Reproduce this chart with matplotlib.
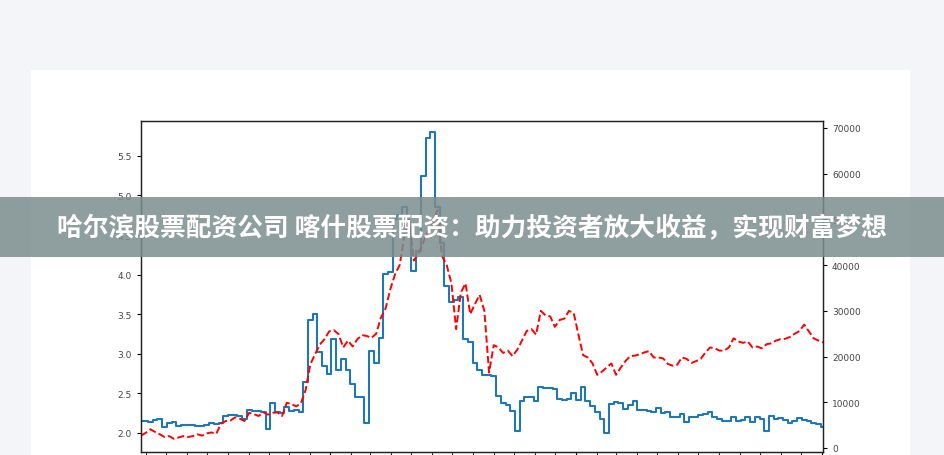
import numpy as np
import pandas as pd
import matplotlib
matplotlib.use("Agg")
import matplotlib.pyplot as plt
import matplotlib.dates as mdates
from matplotlib.patches import Rectangle

# weekly samples
dates = pd.date_range("2014-03-25", periods=146, freq="7D")

price = [
    2.15, 2.15, 2.14, 2.16, 2.18, 2.08, 2.13, 2.14, 2.09, 2.10,
    2.10, 2.10, 2.09, 2.09, 2.10, 2.13, 2.11, 2.13, 2.22, 2.23,
    2.23, 2.22, 2.18, 2.29, 2.28, 2.28, 2.27, 2.05, 2.38, 2.26,
    2.25, 2.33, 2.28, 2.29, 2.27, 2.64, 3.43, 3.50, 3.02, 2.85,
    2.74, 3.19, 2.80, 2.93, 2.80, 2.62, 2.45, 2.45, 2.13, 3.04,
    2.89, 3.20, 4.01, 4.03, 4.70, 4.75, 4.85, 4.60, 4.05, 4.30,
    5.25, 5.72, 5.80, 4.85, 4.40, 3.86, 3.65, 3.68, 3.72, 3.19,
    3.15, 2.88, 2.80, 2.73, 2.73, 2.72, 2.47, 2.38, 2.35, 2.28,
    2.03, 2.40, 2.45, 2.45, 2.40, 2.58, 2.57, 2.57, 2.56, 2.43,
    2.42, 2.43, 2.50, 2.42, 2.58, 2.41, 2.34, 2.27, 2.18, 2.00,
    2.37, 2.39, 2.38, 2.30, 2.35, 2.41, 2.29, 2.29, 2.28, 2.26,
    2.32, 2.25, 2.27, 2.20, 2.20, 2.24, 2.14, 2.20, 2.20, 2.23,
    2.24, 2.26, 2.20, 2.18, 2.15, 2.15, 2.20, 2.15, 2.17, 2.20,
    2.14, 2.20, 2.18, 2.02, 2.22, 2.18, 2.19, 2.17, 2.13, 2.15,
    2.19, 2.17, 2.15, 2.13, 2.11, 2.08,
]

volume = [
    2700, 3300, 4100, 3500, 3000, 2400, 2600, 2000, 2300, 2600,
    2400, 2600, 3000, 2700, 3200, 3400, 3100, 5300, 5900, 6000,
    6700, 6400, 5900, 7700, 7400, 7000, 7800, 7300, 7700, 7800,
    7000, 9900, 9600, 9100, 9800, 12700, 18300, 20500, 22600, 23800,
    25500, 25800, 24900, 22000, 23500, 22200, 23800, 24700, 24500, 24100,
    25000, 28500, 30500, 34700, 38000, 40000, 46500, 50000, 41000, 42500,
    45000, 47500, 49000, 52000, 42000, 40000, 36000, 26000, 34000, 36000,
    29300, 31500, 33500, 30000, 16500, 22500, 22000, 20800, 21300, 20100,
    21500, 23500, 25600, 26000, 24800, 30000, 29000, 28800, 26500, 28000,
    28300, 30000, 29500, 24800, 20300, 19800, 18500, 16000, 16700, 17600,
    18500, 16000, 17600, 19000, 20100, 20200, 20500, 20900, 21200, 19800,
    19800, 19600, 18400, 18000, 18200, 19800, 19500, 18600, 19000, 19500,
    20900, 22000, 21800, 21300, 21300, 22000, 24000, 23300, 23000, 23300,
    22000, 22200, 21800, 22700, 22900, 23500, 23800, 23900, 24300, 25000,
    25600, 27000, 25500, 24000, 23500, 23100,
]

title = "哈尔滨股票配资公司 喀什股票配资：助力投资者放大收益，实现财富梦想"

W, H = 945, 456
fig = plt.figure(figsize=(W / 100, H / 100), dpi=100)
fig.patch.set_facecolor("#f4f5f9")

# white card behind the chart
fig.patches.append(Rectangle((31 / W, 0), (910 - 31) / W, (456 - 71) / H,
                             transform=fig.transFigure, facecolor="white",
                             edgecolor="none", zorder=-1))

ax = fig.add_axes([141 / W, (H - 453) / H, 682 / W, 331 / H])
ax.plot(dates, price, color="#1f77b4", lw=1.5, drawstyle="steps-mid")
ax.set_ylim(1.76, 5.94)
ax.set_xlim(dates[0], dates[-1])

ax2 = ax.twinx()
ax2.plot(dates, volume, "r--", lw=1.4)
ax2.set_ylim(-875, 71530)

ax.xaxis.set_major_locator(mdates.YearLocator())
ax.xaxis.set_minor_locator(mdates.MonthLocator())
ax.tick_params(axis="x", labelbottom=False)

for a in (ax, ax2):
    a.tick_params(labelsize=6.5, labelcolor="#444444", length=3, width=0.8)
    for s in a.spines.values():
        s.set_linewidth(0.9)
        s.set_color("#222222")
ax.tick_params(axis="x", which="major", length=5)
ax.tick_params(axis="x", which="minor", length=3)

# grey banner with the headline
fig.patches.append(Rectangle((0, (H - 258) / H), 1, 60 / H,
                             transform=fig.transFigure, facecolor="#7b8d8d",
                             alpha=0.85, edgecolor="none", zorder=5))
fig.text(472 / W, (H - 229) / H, title, color="white", fontsize=18.5,
         fontweight="bold", ha="center", va="center", zorder=6,
         family=["Noto Sans CJK SC", "DejaVu Sans"])

fig.savefig("out.png", dpi=100)
